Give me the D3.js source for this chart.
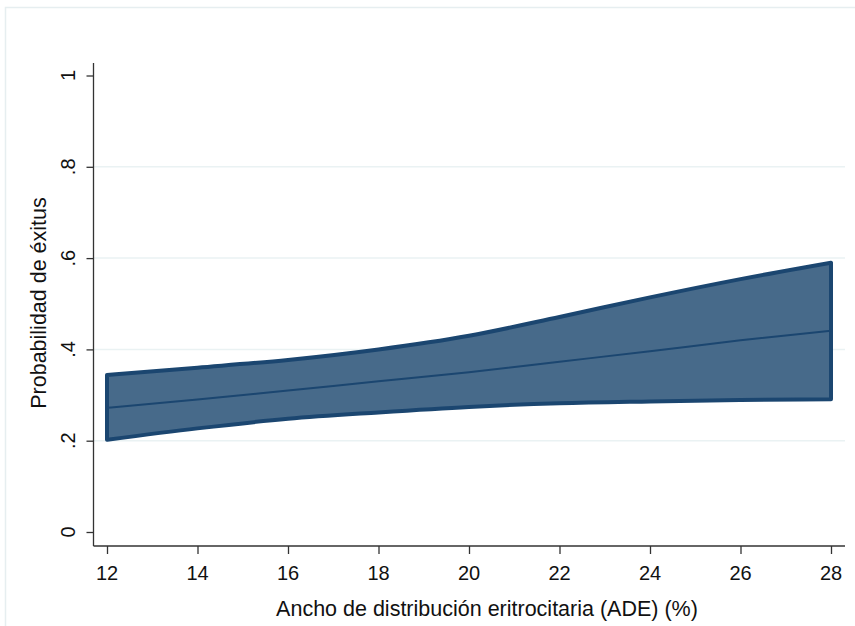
<!DOCTYPE html>
<html>
<head>
<meta charset="utf-8">
<script src="https://cdn.jsdelivr.net/npm/d3@7"></script>
<style>
  body { margin: 0; background: #fff; }
  text { font-family: "Liberation Sans", Arial, sans-serif; fill: #111; }
</style>
</head>
<body>
<script>
// ADE values (x) and predicted probability with CI
var ade = [12, 14, 16, 18, 20, 22, 24, 26, 28];
var upper = [0.344, 0.360, 0.377, 0.400, 0.430, 0.471, 0.514, 0.554, 0.590];
var lower = [0.202, 0.227, 0.248, 0.262, 0.274, 0.282, 0.286, 0.289, 0.291];
var fit = [0.272, 0.290, 0.310, 0.330, 0.350, 0.373, 0.396, 0.420, 0.441];
var yTicks = [0, 0.2, 0.4, 0.6, 0.8, 1];
var yTickLabels = ["0", ".2", ".4", ".6", ".8", "1"];
var xTicks = [12, 14, 16, 18, 20, 22, 24, 26, 28];

var width = 855,
    height = 626;

var svg = d3.select("body").append("svg")
    .attr("width", width)
    .attr("height", height);

// outer graph region border
svg.append("rect")
    .attr("x", 5.5).attr("y", 7.5)
    .attr("width", width).attr("height", height)
    .attr("fill", "none")
    .attr("stroke", "#e6eef0")
    .attr("stroke-width", 1.5);

var x = d3.scaleLinear().domain([12, 28]).range([107, 831]);
var y = d3.scaleLinear().domain([0, 1]).range([532, 75.5]);

var plotLeft = 93.5, plotRight = 845, plotBottom = 546;

// grid lines
svg.selectAll(".grid")
    .data(yTicks.filter(function(d){ return d > 0 && d < 1; }))
    .enter().append("line")
    .attr("class", "grid")
    .attr("x1", plotLeft).attr("x2", plotRight)
    .attr("y1", d => y(d)).attr("y2", d => y(d))
    .attr("stroke", "#eaf2f3")
    .attr("stroke-width", 1.5);

var data = ade.map(function(d, i){
    return {x: d, lo: lower[i], hi: upper[i], fit: fit[i]};
});

// confidence band
var area = d3.area()
    .curve(d3.curveMonotoneX)
    .x(d => x(d.x))
    .y0(d => y(d.lo))
    .y1(d => y(d.hi));

svg.append("path")
    .datum(data)
    .attr("d", area)
    .attr("fill", "#476a8a")
    .attr("stroke", "#1b4670")
    .attr("stroke-width", 4)
    .attr("stroke-linejoin", "round");

var line = d3.line()
    .curve(d3.curveMonotoneX)
    .x(d => x(d.x))
    .y(d => y(d.fit));

svg.append("path")
    .datum(data)
    .attr("d", line)
    .attr("fill", "none")
    .attr("stroke", "#1b4670")
    .attr("stroke-width", 2);

// y axis
var yAxis = svg.append("g")
    .attr("transform", "translate(" + plotLeft + ",0)")
    .call(d3.axisLeft(y).tickValues(yTicks).tickSize(7).tickFormat(""));
yAxis.select(".domain").attr("d", "M0,63V" + plotBottom).attr("stroke", "#333").attr("stroke-width", 1.3);
yAxis.selectAll(".tick line").attr("stroke", "#333").attr("stroke-width", 1.3);

svg.selectAll(".ylab")
    .data(yTicks)
    .enter().append("text")
    .attr("class", "ylab")
    .attr("transform", d => "translate(75," + y(d) + ") rotate(-90)")
    .attr("text-anchor", "middle")
    .attr("font-size", 20)
    .text((d, i) => yTickLabels[i]);

// x axis
var xAxis = svg.append("g")
    .attr("transform", "translate(0," + plotBottom + ")")
    .call(d3.axisBottom(x).tickValues(xTicks).tickSize(8).tickFormat(""));
xAxis.select(".domain").attr("d", "M" + plotLeft + ",0H" + plotRight).attr("stroke", "#333").attr("stroke-width", 1.3);
xAxis.selectAll(".tick line").attr("stroke", "#333").attr("stroke-width", 1.3);

svg.selectAll(".xlab")
    .data(xTicks)
    .enter().append("text")
    .attr("class", "xlab")
    .attr("x", d => x(d))
    .attr("y", 580)
    .attr("text-anchor", "middle")
    .attr("font-size", 20)
    .text(d => d);

// axis titles
svg.append("text")
    .attr("x", 487)
    .attr("y", 616)
    .attr("text-anchor", "middle")
    .attr("font-size", 21.5)
    .text("Ancho de distribución eritrocitaria (ADE) (%)");

svg.append("text")
    .attr("transform", "translate(46,303) rotate(-90)")
    .attr("text-anchor", "middle")
    .attr("font-size", 21.5)
    .text("Probabilidad de éxitus");
</script>
</body>
</html>
